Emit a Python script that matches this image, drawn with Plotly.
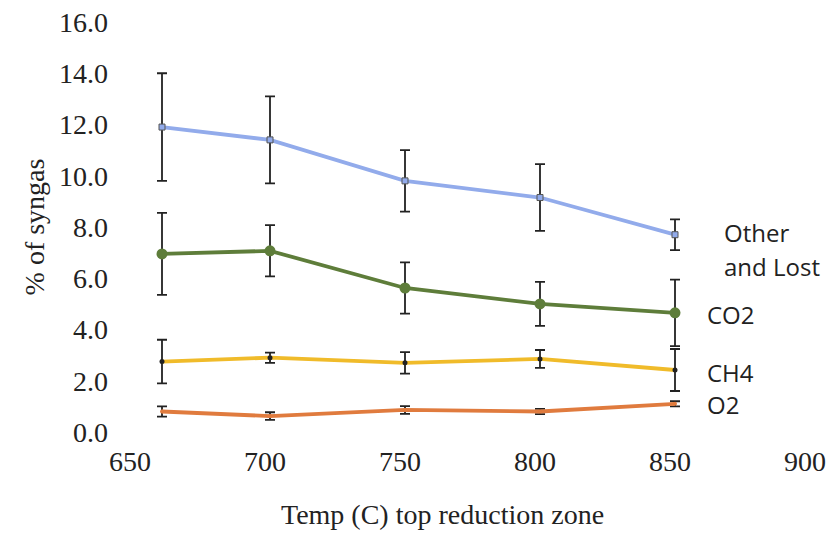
import plotly.graph_objects as go

temps = [660, 700, 750, 800, 850]
other_lost = [11.9, 11.4, 9.8, 9.15, 7.7]
other_lost_err = [2.1, 1.7, 1.2, 1.3, 0.6]
co2 = [6.95, 7.07, 5.62, 5.0, 4.65]
co2_err = [1.6, 1.0, 1.0, 0.86, 1.3]
ch4 = [2.75, 2.9, 2.7, 2.85, 2.42]
ch4_err = [0.85, 0.2, 0.42, 0.35, 0.82]
o2 = [0.8, 0.62, 0.86, 0.8, 1.1]
o2_err = [0.2, 0.15, 0.15, 0.1, 0.1]

series = [
    ("Other and Lost", other_lost, other_lost_err, "#92abeb", dict(symbol="square", size=6, color="#92abeb", line=dict(color="#555", width=1))),
    ("CO2", co2, co2_err, "#5e7d3a", dict(symbol="circle", size=11, color="#5e7d3a")),
    ("CH4", ch4, ch4_err, "#f0bb2a", dict(symbol="circle", size=5, color="#222")),
    ("O2", o2, o2_err, "#e07b3e", dict(symbol="circle", size=4, color="#e07b3e")),
]

fig = go.Figure()
for name, vals, errs, col, mk in series:
    fig.add_trace(go.Scatter(
        x=temps, y=vals, name=name, mode="lines+markers",
        line=dict(color=col, width=3.8),
        marker=mk,
        error_y=dict(type="data", array=errs, visible=True, color="#222", thickness=1.8, width=5),
    ))

labels = [
    ("Other", 867.5, 7.8),
    ("and Lost", 867.5, 6.44),
    ("CO2", 861, 4.6),
    ("CH4", 861, 2.34),
    ("O2", 861, 1.09),
]
for txt, xx, yy in labels:
    fig.add_annotation(x=xx, y=yy, text=txt, showarrow=False, xanchor="left", yanchor="middle",
                       align="left", font=dict(family="Open Sans, Noto Sans, sans-serif", size=24, color="#222"))

serif = "Liberation Serif, Times New Roman, serif"
fig.add_annotation(x=0.455, y=0, xref="paper", yref="paper", yshift=-82, yanchor="middle", xanchor="center",
                   text="Temp (C) top reduction zone", showarrow=False,
                   font=dict(family=serif, size=28, color="#222"))

fig.update_layout(
    width=833, height=534,
    margin=dict(l=135, r=23, t=22, b=102),
    paper_bgcolor="white", plot_bgcolor="white",
    showlegend=False,
    font=dict(family=serif, color="#222"),
    xaxis=dict(range=[650, 900], dtick=50, tick0=650, showgrid=False, zeroline=False, showline=False,
               ticks="", tickfont=dict(family=serif, size=28), ticklabelstandoff=10, ticklabelshift=-5,
               automargin=False),
    yaxis=dict(range=[0, 16], dtick=2, showgrid=False, zeroline=False, showline=False, ticks="",
               tickformat=".1f", tickfont=dict(family=serif, size=28), ticklabelstandoff=26, automargin=False,
               title=dict(text="% of syngas", font=dict(family=serif, size=28), standoff=6)),
)
fig.write_html("out.html", config={"displayModeBar": False},
               post_script="document.body.style.margin='0px';document.body.style.overflow='hidden';")
